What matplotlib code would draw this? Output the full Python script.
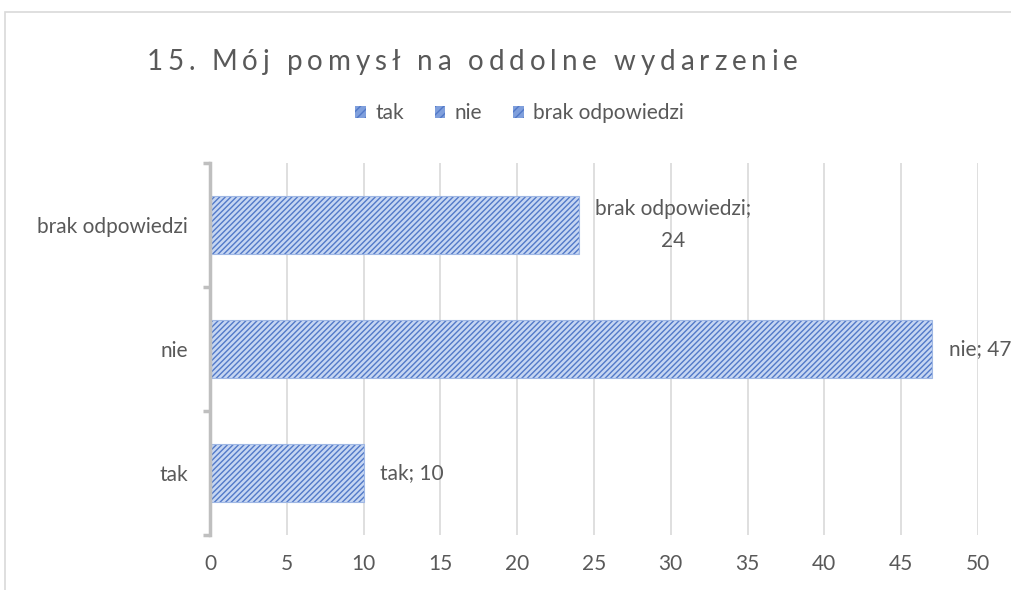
import matplotlib.pyplot as plt
from matplotlib.patches import Patch, Rectangle
from matplotlib.ticker import MultipleLocator, FixedLocator
from matplotlib.font_manager import FontProperties

# survey answers
categories = ['tak', 'nie', 'brak odpowiedzi']
counts = [10, 47, 24]
bar_labels = ['tak; 10', 'nie; 47', 'brak odpowiedzi;\n24']
title = '15. Mój pomysł na oddolne wydarzenie'

FACE = '#c6d6f2'
HATCH = '#5279c8'
TEXT = '#595959'
GRID = '#d9d9d9'
AXIS = '#bfbfbf'
FS = 15

plt.rcParams['font.family'] = ['Lato', 'DejaVu Sans']
plt.rcParams['hatch.linewidth'] = 1.0

fig = plt.figure(figsize=(10.11, 5.90), dpi=100)
fig.patch.set_facecolor('white')

# chart frame (runs off the right and bottom edges)
fig.patches.append(Rectangle((0.005, -0.2), 1.2, 1.18, transform=fig.transFigure,
                             facecolor='none', edgecolor=GRID, linewidth=1.2))

ax = fig.add_axes([0.2077, 0.0932, 0.7596, 0.6305])
ypos = list(range(len(categories)))
ax.barh(ypos, counts, height=0.47, color=FACE, linewidth=0, zorder=2)
ax.barh(ypos, counts, height=0.47, color='none', edgecolor=HATCH,
        hatch='//////', linewidth=0, zorder=3)
ax.barh(ypos, counts, height=0.47, color='none', edgecolor='#9fb7e4',
        linewidth=0.8, zorder=4)

ax.set_xlim(0, 50)
ax.set_ylim(-0.5, 2.5)
ax.xaxis.set_major_locator(MultipleLocator(5))
ax.grid(axis='x', color=GRID, linewidth=1.2, zorder=0)
ax.set_yticks(ypos)
ax.set_yticklabels(categories)
ax.yaxis.set_minor_locator(FixedLocator([-0.5, 0.5, 1.5, 2.5]))
ax.tick_params(axis='y', which='major', length=0, pad=16, labelsize=FS, labelcolor=TEXT)
ax.tick_params(axis='y', which='minor', length=5, width=2.5, color=AXIS)
ax.tick_params(axis='x', length=0, pad=14, labelsize=FS, labelcolor=TEXT)

for side in ['top', 'right', 'bottom']:
    ax.spines[side].set_visible(False)
ax.spines['left'].set_color(AXIS)
ax.spines['left'].set_linewidth(2.5)
ax.spines['left'].set_zorder(5)

for y, v, lab in zip(ypos, counts, bar_labels):
    ax.annotate(lab, (v, y), xytext=(12, 0), textcoords='offset points',
                ha='left', va='center', multialignment='center',
                fontsize=FS, color=TEXT, linespacing=1.75)

# title with widened letter spacing
renderer = fig.canvas.get_renderer()
fp = FontProperties(family=['Lato', 'DejaVu Sans'], size=20)
spacing = 4.9
widths = [renderer.get_text_width_height_descent(c, fp, ismath=False)[0] for c in title]
total = sum(widths) + spacing * (len(title) - 1)
x = 0.467 * fig.bbox.width - total / 2
for c, w in zip(title, widths):
    fig.text(x / fig.bbox.width, 0.895, c, ha='left', va='center',
             fontproperties=fp, color=TEXT)
    x += w + spacing

handles = [Patch(facecolor='#7f9fdc', edgecolor=HATCH, hatch='////', linewidth=0, label=c)
           for c in categories]
fig.legend(handles=handles, loc='center', bbox_to_anchor=(0.514, 0.808), ncol=3,
           frameon=False, fontsize=FS, labelcolor=TEXT, handlelength=0.5,
           handleheight=0.5, handletextpad=0.45, columnspacing=1.5)

fig.savefig('out.png', dpi=100)
